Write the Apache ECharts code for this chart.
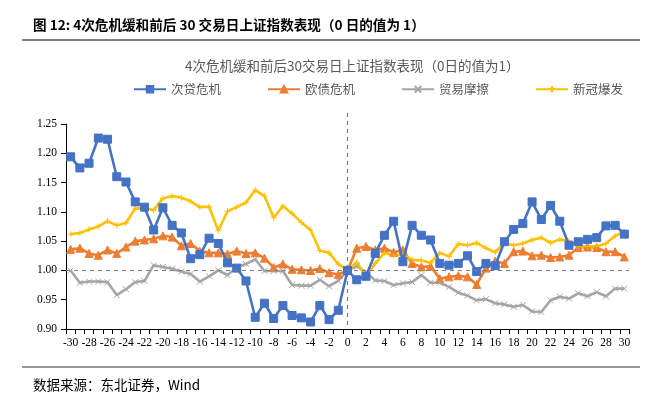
<!DOCTYPE html>
<html><head><meta charset="utf-8">
<script src="https://cdn.jsdelivr.net/npm/echarts@6/dist/echarts.min.js"></script>
<style>html,body{margin:0;padding:0;background:#fff}#c{width:659px;height:402px}</style>
</head><body><div id="c"></div>
<script>
const days = [];
for (let d = -30; d <= 30; d++) days.push(String(d));

const subprime = [1.194,1.175,1.183,1.226,1.224,1.160,1.151,1.117,1.108,1.069,1.107,1.077,1.064,1.020,1.027,1.055,1.046,1.013,1.004,0.982,0.920,0.944,0.918,0.940,0.923,0.919,0.912,0.940,0.916,0.932,1.000,0.984,0.990,1.029,1.060,1.084,1.015,1.077,1.060,1.052,1.012,1.009,1.012,1.025,0.998,1.012,1.008,1.049,1.070,1.080,1.117,1.087,1.111,1.084,1.043,1.049,1.053,1.056,1.076,1.077,1.062];
const euroDebt = [1.036,1.038,1.029,1.026,1.035,1.029,1.040,1.050,1.052,1.054,1.059,1.057,1.042,1.046,1.033,1.030,1.030,1.028,1.033,1.029,1.030,1.021,1.005,1.011,1.002,1.001,1.000,1.003,0.996,0.993,1.000,1.038,1.041,1.035,1.038,1.031,1.035,1.012,1.006,1.007,0.986,0.989,0.991,0.989,0.976,1.004,1.016,1.012,1.032,1.033,1.025,1.026,1.022,1.023,1.026,1.039,1.040,1.039,1.032,1.032,1.023];
const tradeWar = [1.000,0.979,0.981,0.981,0.980,0.958,0.968,0.980,0.982,1.009,1.006,1.003,0.998,0.994,0.981,0.990,1.000,0.992,1.006,1.011,1.019,0.999,0.999,0.999,0.975,0.974,0.974,0.984,0.973,0.982,1.000,1.007,0.997,0.983,0.982,0.975,0.978,0.980,0.992,0.979,0.979,0.972,0.962,0.957,0.949,0.951,0.944,0.942,0.938,0.941,0.930,0.929,0.949,0.955,0.952,0.961,0.956,0.963,0.956,0.969,0.969];
const covid = [1.062,1.064,1.070,1.075,1.084,1.077,1.081,1.106,1.106,1.103,1.123,1.127,1.124,1.118,1.108,1.109,1.068,1.101,1.108,1.116,1.137,1.127,1.090,1.110,1.097,1.082,1.069,1.034,1.030,1.011,1.000,1.014,0.990,1.012,1.030,1.025,1.027,1.018,1.017,1.013,1.030,1.024,1.045,1.043,1.047,1.038,1.031,1.047,1.043,1.046,1.052,1.056,1.047,1.053,1.050,1.041,1.041,1.041,1.046,1.059,1.066];

const seriesNames = ['次贷危机','欧债危机','贸易摩擦','新冠爆发'];
const yTicks = {min: 0.90, max: 1.25, interval: 0.05};

const chart = echarts.init(document.getElementById('c'));
const serif = '"Liberation Serif","Times New Roman",serif';
const cjk = '"Noto Sans CJK SC",sans-serif';
const xPath = 'path://M0,0L10,10M10,0L0,10';
const plusPath = 'path://M5,0L5,10M0,5L10,5';

function mkSeries(name, data, color, symbol, size, extra) {
  return Object.assign({
    name, type: 'line', data, symbol, symbolSize: size, showAllSymbol: true,
    lineStyle: {color, width: 2.6},
    itemStyle: {color, borderColor: color, borderWidth: 1},
    animation: false, z: 3
  }, extra || {});
}

chart.setOption({
  animation: false,
  title: [
    {text: '图 12: 4次危机缓和前后 30 交易日上证指数表现（0 日的值为 1）', left: 28, top: 13,
     textStyle: {fontFamily: cjk, fontSize: 13.6, fontWeight: 'bold', color: '#000'}},
    {text: '4次危机缓和前后30交易日上证指数表现（0日的值为1）', left: 180, top: 54,
     textStyle: {fontFamily: cjk, fontSize: 13.5, fontWeight: 'normal', color: '#595959'}},
    {text: '数据来源：东北证券，Wind', left: 28, top: 373,
     textStyle: {fontFamily: cjk, fontSize: 13.5, fontWeight: 'normal', color: '#000'}}
  ],
  graphic: [
    {type: 'line', shape: {x1: 22, y1: 40, x2: 640, y2: 40}, style: {stroke: '#000', lineWidth: 1}},
    {type: 'line', shape: {x1: 22, y1: 367, x2: 640, y2: 367}, style: {stroke: '#000', lineWidth: 0.8}}
  ],
  legend: {
    top: 78, left: 128, itemGap: 46, itemWidth: 32, itemHeight: 8,
    textStyle: {fontFamily: cjk, fontSize: 12.5, color: '#595959'},
    data: seriesNames
  },
  grid: {left: 66, right: 30, top: 124, bottom: 73},
  xAxis: {
    type: 'category', data: days, boundaryGap: true,
    axisLine: {lineStyle: {color: '#000', width: 1}},
    axisTick: {show: true, interval: 0, alignWithLabel: false, length: 5, lineStyle: {color: '#000'}},
    axisLabel: {interval: 1, fontFamily: serif, fontSize: 11.5, color: '#000', margin: 8},
    splitLine: {show: false}
  },
  yAxis: {
    type: 'value', min: yTicks.min, max: yTicks.max, interval: yTicks.interval,
    axisLine: {show: true, lineStyle: {color: '#000', width: 1}},
    axisTick: {show: true, length: 5, lineStyle: {color: '#000'}},
    axisLabel: {fontFamily: serif, fontSize: 11.5, color: '#000', margin: 9,
      formatter: v => v.toFixed(2)},
    splitLine: {show: false}
  },
  series: [
    mkSeries(seriesNames[0], subprime, '#4472C4', 'rect', 8, {z: 4,
      markLine: {silent: true, symbol: 'none', label: {show: false},
        lineStyle: {color: '#7f7f7f', type: [4, 4], width: 1.2},
        data: [{yAxis: 1}]}}),
    mkSeries(seriesNames[1], euroDebt, '#ED7D31', 'triangle', 8),
    mkSeries(seriesNames[2], tradeWar, '#A5A5A5', xPath, 6),
    mkSeries(seriesNames[3], covid, '#FFC000', plusPath, 6)
  ]
});

// vertical dashed line at day 0, positioned through the axis scale
const x0 = chart.convertToPixel({xAxisIndex: 0}, '0');
const yBottom = chart.convertToPixel({yAxisIndex: 0}, yTicks.min);
chart.setOption({graphic: [
  {type: 'line', shape: {x1: 22, y1: 40, x2: 640, y2: 40}, style: {stroke: '#000', lineWidth: 1}},
  {type: 'line', shape: {x1: 22, y1: 367, x2: 640, y2: 367}, style: {stroke: '#000', lineWidth: 0.8}},
  {type: 'line', z: 1, shape: {x1: x0, y1: 113, x2: x0, y2: yBottom},
   style: {stroke: '#7f7f7f', lineWidth: 1.2, lineDash: [4, 4]}}
]});
</script></body></html>
